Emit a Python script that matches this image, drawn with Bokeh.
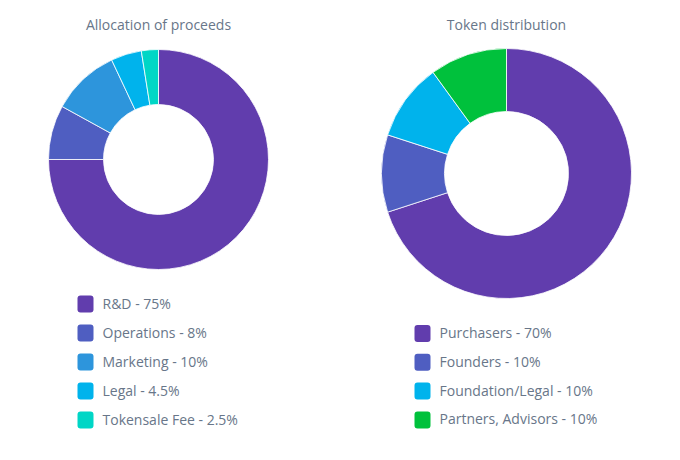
import math
from bokeh.plotting import figure
from bokeh.models import Range1d, ColumnDataSource
from bokeh.core.properties import value
from bokeh.embed import file_html
from bokeh.resources import INLINE

# ---- data ----
alloc_labels = ["R&D - 75%", "Operations - 8%", "Marketing - 10%", "Legal - 4.5%", "Tokensale Fee - 2.5%"]
alloc_values = [75, 8, 10, 4.5, 2.5]
alloc_colors = ["#613DAD", "#4F5EC1", "#2D95DC", "#00B3EC", "#00D6C6"]

token_labels = ["Purchasers - 70%", "Founders - 10%", "Foundation/Legal - 10%", "Partners, Advisors - 10%"]
token_values = [70, 10, 10, 10]
token_colors = ["#613DAD", "#4F5EC1", "#00B3EC", "#00C13C"]

W, H = 680, 460
TEXT = "#687689"
FONT = value("Open Sans")

p = figure(width=W, height=H, output_backend="svg", toolbar_location=None,
           x_range=Range1d(0, W), y_range=Range1d(0, H), min_border=0)
p.axis.visible = False
p.grid.visible = False
p.outline_line_color = None
p.background_fill_color = "white"
p.border_fill_color = "white"


def donut(values, colors, cx, cy, r_out, r_in):
    total = float(sum(values))
    starts, ends = [], []
    cum = 0.0
    for v in values:
        a0 = cum / total
        cum += v
        a1 = cum / total
        starts.append(math.pi / 2 - 2 * math.pi * a1)
        ends.append(math.pi / 2 - 2 * math.pi * a0)
    src = ColumnDataSource(dict(x=[cx] * len(values), y=[cy] * len(values),
                                start=starts, end=ends, color=colors))
    p.annular_wedge(x="x", y="y", inner_radius=r_in, outer_radius=r_out,
                    inner_radius_units="screen", outer_radius_units="screen",
                    start_angle="start", end_angle="end", direction="anticlock",
                    fill_color="color", line_color="white", line_width=0.8, source=src)


def legend(labels, colors, x_sq, x_txt, y_first, step):
    ys = [H - (y_first + i * step) for i in range(len(labels))]
    src = ColumnDataSource(dict(l=[x_sq] * len(labels), r=[x_sq + 16] * len(labels),
                                b=[y - 8.5 for y in ys], t=[y + 8.5 for y in ys],
                                color=colors, y=[y + 1 for y in ys], x=[x_txt] * len(labels),
                                text=labels))
    p.quad(left="l", right="r", bottom="b", top="t", fill_color="color",
           line_color=None, border_radius=3, source=src)
    p.text(x="x", y="y", text="text", text_font=FONT, text_font_size="14px",
           text_color=TEXT, text_baseline="middle", text_align="left", source=src)


donut(alloc_values, alloc_colors, 158, H - 159, 110, 55)
donut(token_values, token_colors, 506, H - 173, 125, 62)

legend(alloc_labels, alloc_colors, 77, 102, 303.5, 29)
legend(token_labels, token_colors, 414, 439, 333, 28.8)

p.text(x=[158, 506], y=[H - 24, H - 24], text=["Allocation of proceeds", "Token distribution"],
       text_font=FONT, text_font_size="14px", text_color=TEXT,
       text_align="center", text_baseline="middle")

open("out.html", "w").write(file_html(p, INLINE))
